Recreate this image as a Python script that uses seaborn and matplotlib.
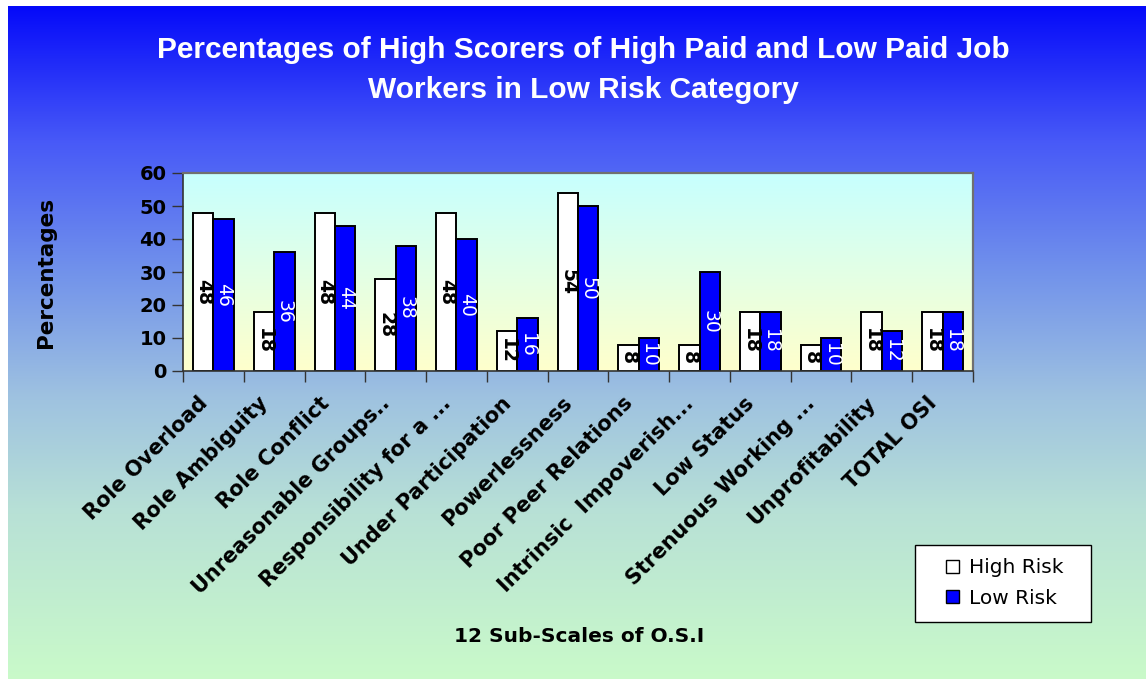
import numpy as np
import pandas as pd
import matplotlib.pyplot as plt
from matplotlib.colors import LinearSegmentedColormap
from matplotlib.patches import Patch, Rectangle
import seaborn as sns

# sub-scales of the O.S.I (as labelled on the chart)
categories = ["Role Overload", "Role Ambiguity", "Role Conflict",
              "Unreasonable Groups..", "Responsibility for a ...",
              "Under Participation", "Powerlessness", "Poor Peer Relations",
              "Intrinsic  Impoverish...", "Low Status", "Strenuous Working ...",
              "Unprofitability", "TOTAL OSI"]
high_risk = [48, 18, 48, 28, 48, 12, 54, 8, 8, 18, 8, 18, 18]
low_risk = [46, 36, 44, 38, 40, 16, 50, 10, 30, 18, 10, 12, 18]
series = ["High Risk", "Low Risk"]
yticks = [0, 10, 20, 30, 40, 50, 60]

df = pd.DataFrame({
    "Sub-scale": categories * 2,
    "Group": [series[0]] * len(categories) + [series[1]] * len(categories),
    "Percent": high_risk + low_risk,
})

sns.set_style("white")
plt.rcParams["font.family"] = ["DejaVu Sans"]
plt.rcParams["text.color"] = "black"
plt.rcParams["xtick.color"] = "black"
plt.rcParams["ytick.color"] = "black"

W, H = 1146, 679
fig = plt.figure(figsize=(W / 100, H / 100), dpi=100, facecolor="white")

# background gradient of the whole chart (blue -> pale green)
bg = fig.add_axes([8 / W, 0, 1 - 8 / W, 1 - 6 / H], zorder=-10)
bg_cmap = LinearSegmentedColormap.from_list("bg", [
    (0.00, (0.02, 0.04, 0.98)),
    (0.20, (0.28, 0.35, 0.97)),
    (0.40, (0.45, 0.58, 0.92)),
    (0.58, (0.62, 0.76, 0.88)),
    (0.75, (0.72, 0.88, 0.84)),
    (1.00, (0.79, 0.98, 0.79)),
])
bg.imshow(np.linspace(0, 1, 256).reshape(-1, 1), cmap=bg_cmap, aspect="auto",
          extent=[0, 1, 0, 1])
bg.axis("off")

ax = fig.add_axes([183 / W, 1 - 371 / H, 790 / W, 198 / H])
sns.barplot(data=df, x="Sub-scale", y="Percent", hue="Group", hue_order=series,
            palette=["white", "#0000ff"], saturation=1, edgecolor="black",
            linewidth=1.4, width=0.67, legend=False, ax=ax, zorder=2)

# plot area gradient (light cyan -> light yellow)
pa_cmap = LinearSegmentedColormap.from_list("pa", [(0.78, 1.0, 1.0), (1.0, 1.0, 0.80)])
ax.imshow(np.linspace(0, 1, 256).reshape(-1, 1), cmap=pa_cmap, aspect="auto",
          extent=[-0.5, len(categories) - 0.5, 0, 60], zorder=0)

ax.bar_label(ax.containers[0], labels=[str(v) for v in high_risk], label_type="center",
             rotation=-90, fontsize=13.5, fontweight="bold", color="black")
ax.bar_label(ax.containers[1], labels=[str(v) for v in low_risk], label_type="center",
             rotation=-90, fontsize=13.5, color="white")

ax.set_xlim(-0.5, len(categories) - 0.5)
ax.set_ylim(0, 60)
ax.set_yticks(yticks)
ax.set_yticklabels([str(t) for t in yticks], fontsize=14, fontweight="bold")
ax.set_xticks(np.arange(-0.5, len(categories), 1))
ax.set_xticklabels([])
# category names sit a little left of the category centre, as in the original
ax.set_xticks(np.arange(len(categories)) - 0.15, minor=True)
ax.set_xticklabels(categories, minor=True, rotation=45, ha="right", va="center",
                   rotation_mode="anchor", fontsize=15, fontweight="bold")
ax.tick_params(axis="both", which="major", direction="out", length=8, width=1,
               color="#333333", left=True, bottom=True, pad=4)
ax.tick_params(axis="x", which="minor", length=0, pad=21)
ax.set_xlabel("")
ax.set_ylabel("")

for side in ["top", "right"]:
    ax.spines[side].set_color("#707070")
    ax.spines[side].set_linewidth(1.6)
for side in ["left", "bottom"]:
    ax.spines[side].set_color("#333333")
    ax.spines[side].set_linewidth(1.2)

fig.text(0.509, 1 - 70 / H,
         "Percentages of High Scorers of High Paid and Low Paid Job\nWorkers in Low Risk Category",
         ha="center", va="center", color="white", fontsize=21.5, fontweight="bold",
         family=["Liberation Sans Narrow", "Liberation Sans"], linespacing=1.52)
fig.text(46 / W, 1 - 272 / H, "Percentages", rotation=90, ha="center", va="center",
         fontsize=15.5, fontweight="bold")
fig.text(579 / W, 1 - 637 / H, "12 Sub-Scales of O.S.I", ha="center", va="center",
         fontsize=14.5, fontweight="bold")

# legend box
fig.patches.append(Rectangle((915 / W, 1 - 622 / H), 176 / W, 77 / H,
                             transform=fig.transFigure, facecolor="white",
                             edgecolor="black", linewidth=1.0, zorder=5))
handles = [Patch(facecolor="white", edgecolor="black"),
           Patch(facecolor="#0000ff", edgecolor="black")]
leg = fig.legend(handles, series, loc="center", bbox_to_anchor=(1005 / W, 1 - 583 / H),
                 frameon=False, handlelength=0.65, handleheight=0.65, handletextpad=0.5,
                 fontsize=14.5, labelspacing=0.55)
leg.set_zorder(6)

fig.savefig("out.png", dpi=100, facecolor="white")
